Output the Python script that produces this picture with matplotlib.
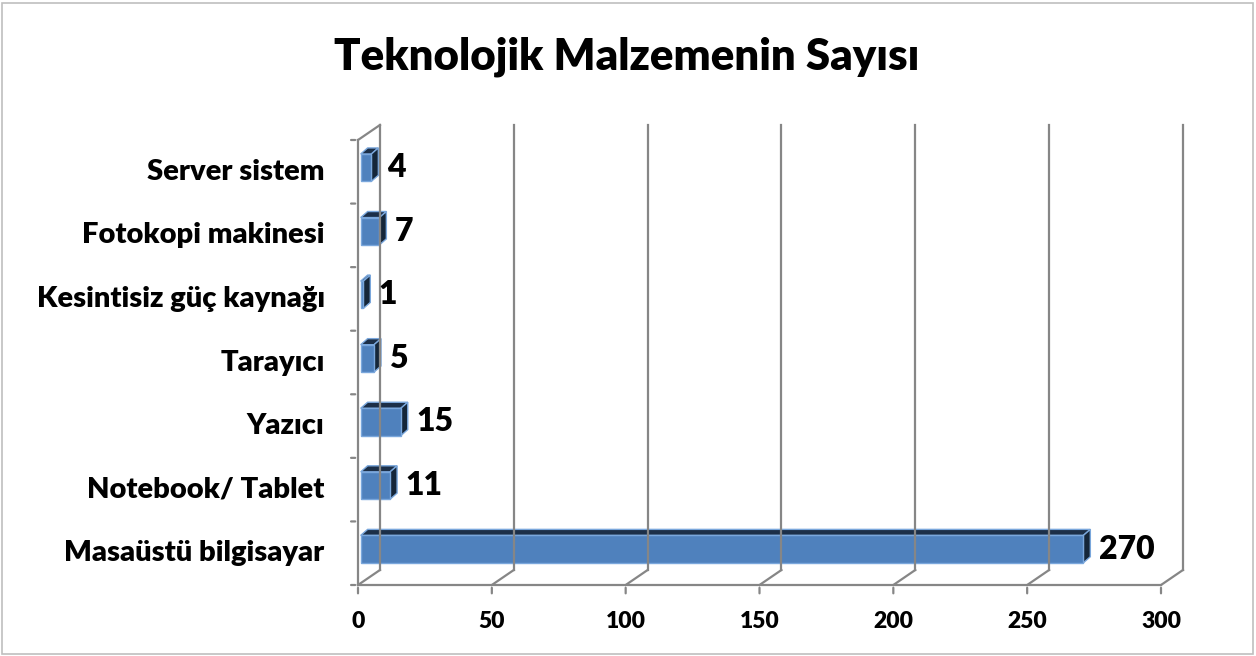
import matplotlib.pyplot as plt
from matplotlib.patches import Polygon, Rectangle

# Données
categories = ['Masaüstü bilgisayar', 'Notebook/ Tablet', 'Yazıcı', 'Tarayıcı',
              'Kesintisiz güç kaynağı', 'Fotokopi makinesi', 'Server sistem']
values = [270, 11, 15, 5, 1, 7, 4]
xticks = [0, 50, 100, 150, 200, 250, 300]
title = 'Teknolojik Malzemenin Sayısı'

plt.rcParams['font.family'] = ['Lato', 'DejaVu Sans']
fw = 'heavy'

fig = plt.figure(figsize=(12.56, 6.56), dpi=100)
ax = fig.add_axes([358 / 1256, 71 / 656, 803 / 1256, 445 / 656])
ax.set_xlim(0, 300)
ax.set_ylim(0, len(categories))
ax.axis('off')

grid_col = '#868686'
# profondeur du mur (en unités de données)
wdx, wdy = 8.2, 0.236
# profondeur des barres
bdx, bdy = 2.6, 0.095
x_off = 1.0

# mur du fond : lignes verticales
for t in xticks:
    ax.plot([t + wdx, t + wdx], [wdy, len(categories) + wdy], color=grid_col, lw=1.6, clip_on=False)
    # diagonales du sol
    ax.plot([t, t + wdx], [0, wdy], color=grid_col, lw=1.6, clip_on=False)
    # graduations
    ax.annotate('', xy=(t, 0), xytext=(0, -8), textcoords='offset points',
                arrowprops=dict(arrowstyle='-', color=grid_col, lw=1.6))
    ax.annotate(str(t), xy=(t, 0), xytext=(0, -19), textcoords='offset points',
                ha='center', va='top', fontsize=16.5, fontweight=fw)

# sol et mur gauche
ax.plot([0, 300], [0, 0], color=grid_col, lw=1.6, clip_on=False)
ax.plot([0, 0], [0, len(categories)], color=grid_col, lw=1.6, clip_on=False)
ax.plot([0, wdx], [len(categories), len(categories) + wdy], color=grid_col, lw=1.6, clip_on=False)
for i in range(len(categories) + 1):
    ax.annotate('', xy=(0, i), xytext=(-7, 0), textcoords='offset points',
                arrowprops=dict(arrowstyle='-', color=grid_col, lw=1.6))

# barres 3D
front = '#4f81bd'
top = '#1c2f48'
side = '#152639'
edge = '#7aa7dc'
for i, (cat, v) in enumerate(zip(categories, values)):
    y0 = i + 0.35
    h = 0.43
    x0 = x_off
    x1 = x_off + v
    ax.add_patch(Polygon([(x0, y0 + h), (x1, y0 + h), (x1 + bdx, y0 + h + bdy), (x0 + bdx, y0 + h + bdy)],
                         closed=True, facecolor=top, edgecolor=edge, lw=1, clip_on=False))
    ax.add_patch(Polygon([(x1, y0), (x1 + bdx, y0 + bdy), (x1 + bdx, y0 + h + bdy), (x1, y0 + h)],
                         closed=True, facecolor=side, edgecolor=edge, lw=1, clip_on=False))
    ax.add_patch(Rectangle((x0, y0), v, h, facecolor=front, edgecolor=edge, lw=1, clip_on=False))
    ax.annotate(str(v), xy=(x1 + bdx, y0 + h / 2), xytext=(6, 0), textcoords='offset points',
                ha='left', va='center', fontsize=23, fontweight=fw)
    ax.annotate(cat, xy=(0, i + 0.5), xytext=(-24, 0), textcoords='offset points',
                ha='right', va='center', fontsize=21, fontweight=fw)

fig.text(627 / 1256, 1 - 57 / 656, title, ha='center', va='center', fontsize=31.5, fontweight=fw)

# cadre
fig.add_artist(Rectangle((2 / 1256, 2 / 656), 1251 / 1256, 651 / 656, transform=fig.transFigure,
                         fill=False, edgecolor='#bfbfbf', lw=1.2))

fig.savefig('out.png', dpi=100)
